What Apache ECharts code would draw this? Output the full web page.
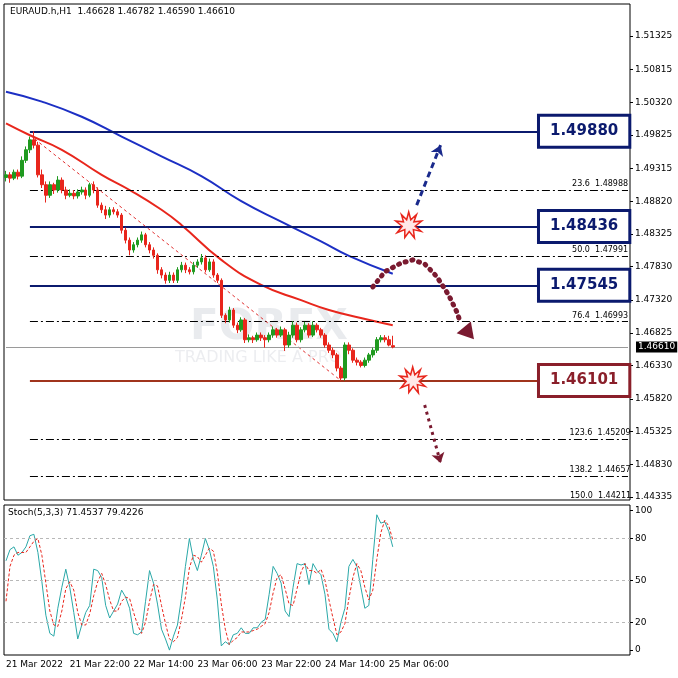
<!DOCTYPE html>
<html>
<head>
<meta charset="utf-8">
<style>
  html, body { margin: 0; padding: 0; background: #fff; }
  #chart { width: 678px; height: 678px; }
</style>
</head>
<body>
<div id="chart"></div>
<script src="https://cdn.jsdelivr.net/npm/echarts@6/dist/echarts.min.js"></script>
<script>
// hourly bars, first bar 21 Mar 06:00
var opens = [1.4918,1.4922,1.4917,1.4926,1.4920,1.4944,1.4960,1.4975,1.4967,1.4922,1.4907,1.4891,1.4907,1.4899,1.4914,1.4899,1.4891,1.4894,1.4890,1.4896,
  1.4899,1.4891,1.4907,1.4899,1.4876,1.4869,1.4861,1.4869,1.4866,1.4861,1.4838,1.4823,1.4808,1.4816,1.4823,1.4831,1.4816,1.4808,1.4800,1.4778,
  1.4770,1.4762,1.4770,1.4762,1.4778,1.4785,1.4778,1.4775,1.4785,1.4790,1.4796,1.4778,1.4790,1.4770,1.4762,1.4709,1.4702,1.4717,1.4694,1.4687,
  1.4702,1.4672,1.4675,1.4672,1.4679,1.4675,1.4672,1.4679,1.4687,1.4679,1.4687,1.4664,1.4679,1.4694,1.4672,1.4687,1.4694,1.4679,1.4694,1.4687,
  1.4679,1.4664,1.4656,1.4649,1.4629,1.4614,1.4664,1.4656,1.4641,1.4638,1.4633,1.4641,1.4649,1.4656,1.4672,1.4675,1.4672,1.4663];
var closes = [1.4922,1.4917,1.4926,1.4920,1.4944,1.4960,1.4975,1.4967,1.4922,1.4907,1.4891,1.4907,1.4899,1.4914,1.4899,1.4891,1.4894,1.4890,1.4896,1.4899,
  1.4891,1.4907,1.4899,1.4876,1.4869,1.4861,1.4869,1.4866,1.4861,1.4838,1.4823,1.4808,1.4816,1.4823,1.4831,1.4816,1.4808,1.4800,1.4778,1.4770,
  1.4762,1.4770,1.4762,1.4778,1.4785,1.4778,1.4775,1.4785,1.4790,1.4796,1.4778,1.4790,1.4770,1.4762,1.4709,1.4702,1.4717,1.4694,1.4687,1.4702,
  1.4672,1.4675,1.4672,1.4679,1.4675,1.4672,1.4679,1.4687,1.4679,1.4687,1.4664,1.4679,1.4694,1.4672,1.4687,1.4694,1.4679,1.4694,1.4687,1.4679,
  1.4664,1.4656,1.4649,1.4629,1.4614,1.4664,1.4656,1.4641,1.4638,1.4633,1.4641,1.4649,1.4656,1.4672,1.4675,1.4672,1.4664,1.4661];
var highs = [1.4928,1.4926,1.4930,1.4930,1.4950,1.4965,1.4980,1.4988,1.4972,1.4930,1.4912,1.4912,1.4910,1.4920,1.4918,1.4904,1.4900,1.4899,1.4900,1.4904,
  1.4903,1.4910,1.4912,1.4903,1.4880,1.4875,1.4873,1.4873,1.4870,1.4864,1.4842,1.4827,1.4820,1.4827,1.4836,1.4834,1.4820,1.4812,1.4803,1.4782,
  1.4774,1.4775,1.4774,1.4782,1.4790,1.4789,1.4782,1.4790,1.4794,1.4802,1.4800,1.4795,1.4794,1.4773,1.4765,1.4712,1.4722,1.4720,1.4698,1.4706,
  1.4705,1.4680,1.4678,1.4683,1.4683,1.4679,1.4683,1.4692,1.4690,1.4692,1.4690,1.4684,1.4700,1.4698,1.4691,1.4699,1.4697,1.4700,1.4697,1.4690,
  1.4682,1.4668,1.4660,1.4652,1.4632,1.4668,1.4668,1.4659,1.4645,1.4641,1.4645,1.4652,1.4660,1.4676,1.4679,1.4679,1.4678,1.4678];
var lows = [1.4912,1.4910,1.4914,1.4915,1.4917,1.4940,1.4955,1.4962,1.4918,1.4902,1.4880,1.4887,1.4893,1.4895,1.4894,1.4885,1.4888,1.4885,1.4886,1.4892,
  1.4885,1.4888,1.4894,1.4872,1.4864,1.4855,1.4857,1.4862,1.4857,1.4833,1.4818,1.4800,1.4804,1.4812,1.4819,1.4812,1.4803,1.4795,1.4772,1.4765,
  1.4757,1.4758,1.4758,1.4758,1.4774,1.4773,1.4771,1.4771,1.4781,1.4786,1.4774,1.4775,1.4766,1.4758,1.4705,1.4697,1.4698,1.4690,1.4682,1.4684,
  1.4667,1.4668,1.4667,1.4669,1.4670,1.4660,1.4668,1.4675,1.4675,1.4676,1.4655,1.4660,1.4675,1.4668,1.4668,1.4683,1.4675,1.4676,1.4683,1.4675,
  1.4660,1.4652,1.4644,1.4624,1.4610,1.4610,1.4650,1.4637,1.4633,1.4630,1.4630,1.4637,1.4645,1.4652,1.4668,1.4668,1.4662,1.4659];

// moving averages sampled at bar indexes
var maRed = [[0,1.5000],[6,1.4982],[14,1.4960],[24,1.4922],[31,1.4899],[39,1.4869],[44,1.4846],[54,1.4793],[64,1.4755],[74,1.4732],[81,1.4717],[89,1.4705],[97,1.4694]];
var maBlue = [[0,1.5048],[9,1.5033],[19,1.5010],[29,1.4980],[39,1.4950],[49,1.4920],[59,1.4882],[69,1.4851],[79,1.4821],[86,1.4799],[97,1.4772]];

var stochK = [64,72,74,68,70,74,82,83,70,49,25,12,10,30,45,58,45,27,8,18,27,32,58,57,52,32,23,28,33,43,38,30,12,11,13,35,57,48,33,15,
  8,0,10,18,37,60,80,65,57,68,80,72,60,36,3,6,4,11,12,16,12,12,16,16,20,22,40,60,55,48,28,24,45,62,61,62,47,62,57,54,
  40,15,12,6,20,30,60,65,60,45,30,32,65,97,91,92,85,74];
var stochD = [35,60,68,70,70,70,74,78,80,68,48,28,18,17,28,44,49,43,27,18,18,26,39,49,55,47,36,28,28,35,38,37,27,18,12,20,35,47,46,32,
  19,8,6,9,22,38,59,68,67,63,68,73,71,56,33,15,4,7,9,13,13,13,14,15,17,19,27,41,52,54,44,33,32,44,56,62,57,57,55,58,
  50,36,23,11,13,19,37,52,62,57,45,36,43,65,84,93,89,79];

var priceTicks = [1.44335,1.44830,1.45325,1.45820,1.46330,1.46825,1.47320,1.47830,1.48325,1.48820,1.49315,1.49825,1.50320,1.50815,1.51325];
var stochTicks = [0,20,50,80,100];
var xTickLabels = ['21 Mar 2022','21 Mar 22:00','22 Mar 14:00','23 Mar 06:00','23 Mar 22:00','24 Mar 14:00','25 Mar 06:00'];

var levels = [1.49880, 1.48436, 1.47545];
var supportLevel = 1.46101;
var fibLevels = [['23.6', 1.48988], ['50.0', 1.47991], ['76.4', 1.46993], ['123.6', 1.45209], ['138.2', 1.44657], ['150.0', 1.44211]];
var lastPrice = 1.46610;

// hand-drawn scenario path (bar index, price)
var arcPath = [[92, 1.4752], [95, 1.4775], [98.5, 1.4788], [101.8, 1.4793], [105, 1.4787], [108, 1.4768], [110.5, 1.4740], [112.5, 1.4715], [113.8, 1.4698]];
var arcHead = [114.6, 1.4684];

var totalBars = 157;
var cats = [];
for (var i = 0; i < totalBars; i++) cats.push(i);
var ohlc = opens.map(function (o, i) { return [o, closes[i], lows[i], highs[i]]; });

var font = 'DejaVu Sans';
var navy = '#0b1a6e';
var maroon = '#7a1a30';
var lastIdx = totalBars - 1;

var levelLines = levels.map(function (v) {
  return [{ coord: [6, v] }, { coord: [lastIdx, v] }];
});
levelLines.push([{ coord: [6, supportLevel], lineStyle: { color: '#a0341c', width: 2 } }, { coord: [lastIdx, supportLevel] }]);
var fibLines = fibLevels.map(function (f) {
  return [{ coord: [6, f[1]], lineStyle: { color: '#000', width: 1, type: [8, 3, 2, 3] } }, { coord: [lastIdx, f[1]] }];
});
var trendLine = [[{ coord: [6, 1.4982], lineStyle: { color: '#e03030', width: 1, type: [3, 3] } }, { coord: [84, 1.4610] }]];

var starPath = 'path://M50,0 L58,30 L80,10 L70,38 L100,35 L75,55 L98,75 L68,68 L72,100 L52,75 L35,98 L35,68 L5,80 L25,55 L0,35 L30,38 L22,10 L42,30 Z';

var boxLabel = function (color) {
  return { show: true, position: 'inside', formatter: function (p) { return p.value[1].toFixed(5); },
    backgroundColor: '#fff', borderColor: color, borderWidth: 3, padding: [7, 10], color: color, fontSize: 15, fontWeight: 'bold' };
};

var chart = echarts.init(document.getElementById('chart'));
chart.setOption({
  animation: false,
  textStyle: { fontFamily: font },
  grid: [
    { left: 4, right: 48, top: 4, height: 496, show: true, borderColor: '#000', borderWidth: 1 },
    { left: 4, right: 48, top: 505, height: 150, show: true, borderColor: '#000', borderWidth: 1 }
  ],
  xAxis: [
    { type: 'category', data: cats, gridIndex: 0, boundaryGap: true, axisLine: { show: false }, axisTick: { show: false }, axisLabel: { show: false } },
    { type: 'category', data: cats, gridIndex: 1, boundaryGap: true, axisLine: { show: false },
      axisTick: { show: false },
      axisLabel: { interval: function (idx) { return idx % 16 === 0 && idx / 16 < xTickLabels.length; },
        formatter: function (v, idx) { return xTickLabels[idx / 16] || ''; },
        color: '#000', fontSize: 9, align: 'left', margin: 5 } }
  ],
  yAxis: [
    { type: 'value', gridIndex: 0, position: 'right', min: 1.44290, max: 1.51810, splitLine: { show: false },
      axisLine: { show: false }, axisTick: { show: true, length: 3, lineStyle: { color: '#000' }, customValues: priceTicks },
      axisLabel: { customValues: priceTicks, formatter: function (v) { return v.toFixed(5); }, color: '#000', fontSize: 9, margin: 5 } },
    { type: 'value', gridIndex: 1, position: 'right', min: -3.5, max: 104, splitLine: { show: false },
      axisLine: { show: false }, axisTick: { show: true, length: 3, lineStyle: { color: '#000' }, customValues: stochTicks },
      axisLabel: { customValues: stochTicks, color: '#000', fontSize: 9, margin: 5 } }
  ],
  graphic: [
    { type: 'text', left: 190, top: 307, z: 0, style: { text: 'FOREX', fill: 'rgba(120,130,150,0.16)', font: 'bold 42px ' + font } },
    { type: 'text', left: 175, top: 350, z: 0, style: { text: 'TRADING LIKE A PRO', fill: 'rgba(120,130,150,0.14)', font: '16px ' + font } },
    { type: 'text', left: 10, top: 7, style: { text: 'EURAUD.h,H1  1.46628 1.46782 1.46590 1.46610', fill: '#000', font: '9px ' + font } },
    { type: 'text', left: 8, top: 508, style: { text: 'Stoch(5,3,3) 71.4537 79.4226', fill: '#000', font: '9px ' + font } },
    { type: 'text', left: 570, top: 492, style: { text: '150.0  1.44211', fill: '#000', font: '8px ' + font } }
  ],
  series: [
    { type: 'candlestick', xAxisIndex: 0, yAxisIndex: 0, data: ohlc, barWidth: 3, z: 5,
      itemStyle: { color: '#1f9a1f', color0: '#e8261c', borderColor: '#1f9a1f', borderColor0: '#e8261c', borderWidth: 1 },
      markLine: { symbol: 'none', silent: true, label: { show: false }, lineStyle: { color: navy, width: 2, type: 'solid' },
        data: levelLines.concat(fibLines, trendLine,
          [[{ coord: [0, lastPrice], lineStyle: { color: '#9a9a9a', width: 1, type: 'solid' } }, { coord: [lastIdx, lastPrice] }]]) } },
    { type: 'line', xAxisIndex: 0, yAxisIndex: 0, data: maRed, showSymbol: false, smooth: true, lineStyle: { color: '#e8261c', width: 2 }, z: 4 },
    { type: 'line', xAxisIndex: 0, yAxisIndex: 0, data: maBlue, showSymbol: false, smooth: true, lineStyle: { color: '#1c2fc4', width: 2 }, z: 4 },
    // level boxes
    { type: 'scatter', xAxisIndex: 0, yAxisIndex: 0, symbolSize: 0, z: 10, itemStyle: { opacity: 1 },
      data: levels.map(function (v) { return [145, v]; }), label: boxLabel(navy) },
    { type: 'scatter', xAxisIndex: 0, yAxisIndex: 0, symbolSize: 0, z: 10, itemStyle: { opacity: 1 },
      data: [[145, supportLevel]], label: boxLabel('#8a1f2a') },
    // fib labels
    { type: 'scatter', xAxisIndex: 0, yAxisIndex: 0, symbolSize: 0, z: 10, itemStyle: { opacity: 1 },
      data: fibLevels.slice(0, 5).map(function (f) { return [149, f[1], f[0]]; }),
      label: { show: true, position: 'top', distance: 2, formatter: function (p) { return p.value[2] + '  ' + p.value[1].toFixed(5); }, color: '#000', fontSize: 8 } },
    // last price tag
    { type: 'scatter', xAxisIndex: 0, yAxisIndex: 0, symbolSize: 0, z: 10, itemStyle: { opacity: 1 },
      data: [[lastIdx, lastPrice]],
      label: { show: true, position: 'right', distance: 8, formatter: lastPrice.toFixed(5), backgroundColor: '#000', color: '#fff', fontSize: 9, padding: [1, 2] } },
    // drawn arrows
    { type: 'lines', coordinateSystem: 'cartesian2d', xAxisIndex: 0, yAxisIndex: 0, z: 8, symbol: ['none', 'arrow'], symbolSize: 10,
      data: [
        { coords: [[102.5, 1.4876], [108.8, 1.4967]], lineStyle: { color: '#1a2a8c', width: 3, type: [6, 4], opacity: 1 } },
        { coords: [[105, 1.4573], [108.8, 1.4485]], lineStyle: { color: maroon, width: 3, type: [3, 4], opacity: 1 } }
      ] },
    { type: 'lines', coordinateSystem: 'cartesian2d', xAxisIndex: 0, yAxisIndex: 0, z: 8, polyline: true, symbol: 'none',
      data: [{ coords: arcPath, lineStyle: { color: maroon, width: 5, type: [1, 6], cap: 'round', opacity: 1 } }] },
    { type: 'scatter', xAxisIndex: 0, yAxisIndex: 0, z: 9, symbol: 'triangle', symbolSize: [18, 16], symbolRotate: 100,
      itemStyle: { color: maroon, opacity: 1 }, data: [arcHead] },
    { type: 'scatter', xAxisIndex: 0, yAxisIndex: 0, z: 9, symbol: starPath, symbolSize: 26,
      itemStyle: { color: '#ffe8e8', borderColor: '#e8261c', borderWidth: 1.5, opacity: 1 },
      data: [[100.8, 1.4846], [101.8, 1.4611]] },
    // stochastic
    { type: 'line', xAxisIndex: 1, yAxisIndex: 1, data: stochK, showSymbol: false, lineStyle: { color: '#2aa8a8', width: 1 },
      markLine: { symbol: 'none', silent: true, label: { show: false }, lineStyle: { color: '#b8b8b8', type: [3, 3], width: 1 },
        data: [{ yAxis: 20 }, { yAxis: 50 }, { yAxis: 80 }] } },
    { type: 'line', xAxisIndex: 1, yAxisIndex: 1, data: stochD, showSymbol: false, lineStyle: { color: '#e8261c', width: 1, type: [3, 2] } }
  ]
});
</script>
</body>
</html>
